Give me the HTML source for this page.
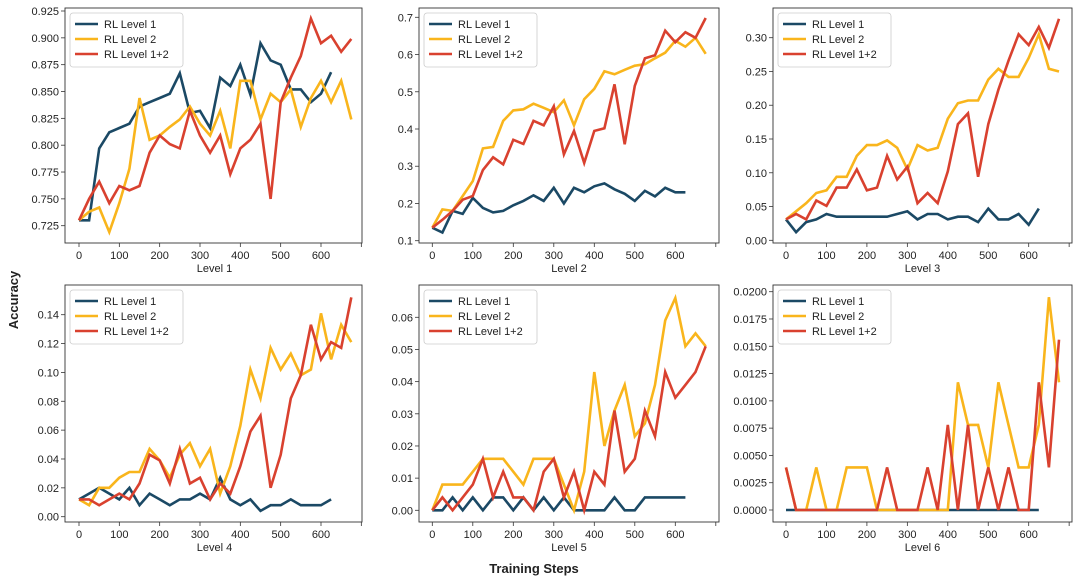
<!DOCTYPE html>
<html><head><meta charset="utf-8"><style>
body{margin:0;background:#fff;}
svg text{font-family:"Liberation Sans","DejaVu Sans",sans-serif;fill:#222;}
</style></head><body>
<svg id="chart" width="1080" height="583" viewBox="0 0 1080 583" xmlns="http://www.w3.org/2000/svg">
<text x="534" y="573" text-anchor="middle" font-size="13" font-weight="bold">Training Steps</text>
<text x="18" y="300" text-anchor="middle" font-size="13" font-weight="bold" transform="rotate(-90 18 300)">Accuracy</text>
</svg>
<script>
const steps=[0,25,50,75,100,125,150,175,200,225,250,275,300,325,350,375,400,425,450,475,500,525,550,575,600,625,650,675];
const seriesNames=["RL Level 1","RL Level 2","RL Level 1+2"];
const panelTitles=["Level 1","Level 2","Level 3","Level 4","Level 5","Level 6"];
const l1_rl1=[0.73,0.73,0.797,0.812,0.816,0.82,0.836,0.84,0.844,0.848,0.867,0.83,0.832,0.816,0.863,0.855,0.875,0.847,0.895,0.879,0.875,0.852,0.852,0.84,0.848,0.868];
const l1_rl2=[0.73,0.738,0.742,0.719,0.746,0.778,0.844,0.805,0.809,0.817,0.824,0.836,0.82,0.809,0.832,0.797,0.86,0.86,0.824,0.848,0.84,0.852,0.817,0.844,0.86,0.84,0.86,0.824];
const l1_rl12=[0.73,0.75,0.766,0.746,0.762,0.758,0.762,0.793,0.809,0.801,0.797,0.832,0.809,0.793,0.809,0.773,0.797,0.805,0.82,0.75,0.84,0.863,0.883,0.918,0.895,0.902,0.887,0.899];
const l2_rl1=[0.135,0.122,0.18,0.172,0.215,0.188,0.176,0.18,0.195,0.207,0.222,0.207,0.242,0.2,0.242,0.23,0.246,0.254,0.238,0.226,0.207,0.234,0.219,0.242,0.23,0.23];
const l2_rl2=[0.135,0.184,0.18,0.22,0.26,0.348,0.352,0.422,0.45,0.453,0.468,0.457,0.445,0.477,0.41,0.48,0.508,0.555,0.547,0.559,0.57,0.574,0.59,0.605,0.637,0.621,0.645,0.602];
const l2_rl12=[0.135,0.156,0.18,0.21,0.22,0.29,0.324,0.305,0.371,0.36,0.422,0.41,0.461,0.332,0.395,0.309,0.395,0.402,0.52,0.359,0.516,0.59,0.598,0.664,0.633,0.66,0.645,0.698];
const l3_rl1=[0.031,0.012,0.027,0.031,0.039,0.035,0.035,0.035,0.035,0.035,0.035,0.039,0.043,0.031,0.039,0.039,0.031,0.035,0.035,0.027,0.047,0.031,0.031,0.039,0.023,0.047];
const l3_rl2=[0.031,0.043,0.055,0.07,0.074,0.094,0.094,0.125,0.141,0.141,0.148,0.137,0.105,0.141,0.133,0.137,0.18,0.203,0.207,0.207,0.238,0.254,0.242,0.242,0.27,0.305,0.254,0.25];
const l3_rl12=[0.031,0.039,0.031,0.059,0.051,0.078,0.078,0.105,0.074,0.078,0.125,0.09,0.109,0.055,0.07,0.055,0.102,0.172,0.188,0.094,0.172,0.223,0.266,0.305,0.289,0.316,0.285,0.328];
const l4_rl1=[0.012,0.016,0.02,0.016,0.012,0.02,0.008,0.016,0.012,0.008,0.012,0.012,0.016,0.012,0.027,0.012,0.008,0.012,0.004,0.008,0.008,0.012,0.008,0.008,0.008,0.012];
const l4_rl2=[0.012,0.008,0.02,0.02,0.027,0.031,0.031,0.047,0.039,0.027,0.043,0.051,0.035,0.047,0.016,0.035,0.063,0.102,0.082,0.117,0.102,0.113,0.098,0.102,0.141,0.109,0.133,0.121];
const l4_rl12=[0.012,0.012,0.008,0.012,0.016,0.012,0.023,0.043,0.039,0.023,0.047,0.023,0.027,0.012,0.023,0.016,0.035,0.059,0.07,0.02,0.043,0.082,0.098,0.133,0.109,0.121,0.117,0.152];
const l5_rl1=[0,0,0.004,0,0.004,0,0.004,0.004,0,0.004,0,0.004,0,0.004,0,0,0,0,0.004,0,0,0.004,0.004,0.004,0.004,0.004];
const l5_rl2=[0,0.008,0.008,0.008,0.012,0.016,0.016,0.016,0.012,0.008,0.016,0.016,0.016,0.008,0,0.012,0.043,0.02,0.031,0.039,0.023,0.027,0.039,0.059,0.066,0.051,0.055,0.051];
const l5_rl12=[0,0.004,0,0.004,0.008,0.016,0.004,0.012,0.004,0.004,0,0.012,0.016,0.004,0.012,0,0.012,0.008,0.031,0.012,0.016,0.031,0.023,0.043,0.035,0.039,0.043,0.051];
const l6_rl1=[0,0,0,0,0,0,0,0,0,0,0,0,0,0,0,0,0,0,0,0,0,0,0,0,0,0];
const l6_rl2=[0.0039,0,0,0.0039,0,0,0.0039,0.0039,0.0039,0,0,0,0,0,0,0,0,0.0117,0.0078,0.0078,0.0039,0.0117,0.0078,0.0039,0.0039,0.0078,0.0195,0.0117];
const l6_rl12=[0.0039,0,0,0,0,0,0,0,0,0,0.0039,0,0,0,0.0039,0,0.0078,0,0.0078,0,0.0039,0,0.0039,0,0,0.0117,0.0039,0.0156];
const yTicks1=[0.725,0.75,0.775,0.8,0.825,0.85,0.875,0.9,0.925];
const yTicks2=[0.1,0.2,0.3,0.4,0.5,0.6,0.7];
const yTicks3=[0,0.05,0.1,0.15,0.2,0.25,0.3];
const yTicks4=[0,0.02,0.04,0.06,0.08,0.1,0.12,0.14];
const yTicks5=[0,0.01,0.02,0.03,0.04,0.05,0.06];
const yTicks6=[0,0.0025,0.005,0.0075,0.01,0.0125,0.015,0.0175,0.02];
const xTicks=[0,100,200,300,400,500,600,700];

const colors=["#1b4965","#f9b51c","#d9412f"];
const panels=[
 {box:[65,8,362,243],xr:[79,321],yr:[[0.725,225.7],[0.925,11]],ticks:yTicks1,dec:3,data:[l1_rl1,l1_rl2,l1_rl12]},
 {box:[419,8,719,243],xr:[432.3,675.3],yr:[[0.1,240.7],[0.7,17.3]],ticks:yTicks2,dec:1,data:[l2_rl1,l2_rl2,l2_rl12]},
 {box:[773,8,1072,243],xr:[786,1028.7],yr:[[0,240.3],[0.3,37.7]],ticks:yTicks3,dec:2,data:[l3_rl1,l3_rl2,l3_rl12]},
 {box:[65,285,362,522],xr:[79,321],yr:[[0,516.7],[0.14,314.7]],ticks:yTicks4,dec:2,data:[l4_rl1,l4_rl2,l4_rl12]},
 {box:[419,285,719,522],xr:[432.3,675.3],yr:[[0,510.3],[0.06,317.3]],ticks:yTicks5,dec:2,data:[l5_rl1,l5_rl2,l5_rl12]},
 {box:[773,285,1072,522],xr:[786,1028.7],yr:[[0,510],[0.02,291.7]],ticks:yTicks6,dec:4,data:[l6_rl1,l6_rl2,l6_rl12]}
];
const svg=document.getElementById('chart');
const NS="http://www.w3.org/2000/svg";
function mk(tag,attrs,parent){const e=document.createElementNS(NS,tag);for(const k in attrs)e.setAttribute(k,attrs[k]);(parent||svg).appendChild(e);return e;}
panels.forEach((p,i)=>{
 const g=mk('g',{});
 
 
 const [l,t,r,b]=p.box;
 const xs=v=>p.xr[0]+(p.xr[1]-p.xr[0])*v/600;
 const ys=v=>p.yr[0][1]+(v-p.yr[0][0])*(p.yr[1][1]-p.yr[0][1])/(p.yr[1][0]-p.yr[0][0]);
 // ticks
 p.ticks.forEach(v=>{const y=ys(v);
  mk('line',{x1:l-4,x2:l,y1:y,y2:y,stroke:'#333','stroke-width':0.8},g);
  const tx=mk('text',{x:l-6,y:y+4,'text-anchor':'end','font-size':11},g);tx.textContent=v.toFixed(p.dec);
  
  
 });
 xTicks.forEach(v=>{const x=xs(v);if(x>r+1)return;
  mk('line',{x1:x,x2:x,y1:b,y2:b+4,stroke:'#333','stroke-width':0.8},g);
  if(v<=600){const tx=mk('text',{x:x,y:b+16,'text-anchor':'middle','font-size':11},g);tx.textContent=v;
  
  }
 });
 const tt=mk('text',{x:(l+r)/2+(i%3==0?1:0),y:b+29,'text-anchor':'middle','font-size':11},g);tt.textContent=panelTitles[i];
 
 
 // series
 p.data.forEach((arr,s)=>{
  const pts=arr.map((v,k)=>xs(steps[k]).toFixed(1)+','+ys(v).toFixed(1)).join(' ');
  const pl=mk('polyline',{points:pts,fill:'none',stroke:colors[s],'stroke-width':2.6,'stroke-linejoin':'miter'},g);
  
  
 });
 mk('rect',{x:l,y:t,width:r-l,height:b-t,fill:'none',stroke:'#333','stroke-width':0.9},g);
 // legend
 const lg=mk('g',{},g);
 
 
 mk('rect',{x:l+5,y:t+5,width:113,height:54,rx:3,fill:'#fff','fill-opacity':0.85,stroke:'#ccc','stroke-width':0.8},lg);
 seriesNames.forEach((n,s)=>{const y=t+16+s*15;
  mk('line',{x1:l+10,x2:l+33,y1:y,y2:y,stroke:colors[s],'stroke-width':2.6},lg);
  const tx=mk('text',{x:l+39,y:y+4,'font-size':11},lg);tx.textContent=n;
  
  
 });
});
</script>
</body></html>
